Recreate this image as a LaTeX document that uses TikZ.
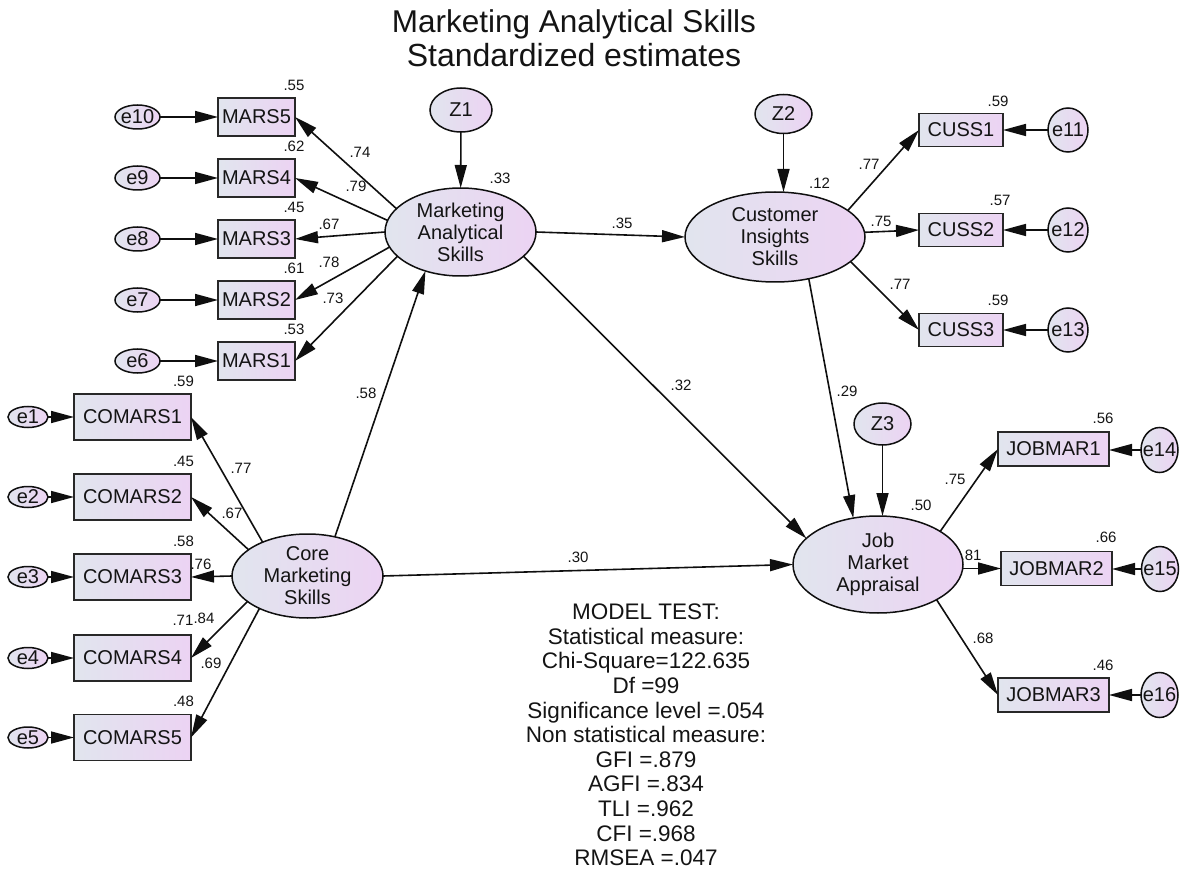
\documentclass[tikz,border=0pt]{standalone}
\usepackage{fontspec}
\setmainfont{Liberation Sans}
\usetikzlibrary{shapes.geometric,arrows.meta}
\definecolor{fillL}{RGB}{225,229,238}
\definecolor{fillR}{RGB}{236,211,243}
\definecolor{edgec}{RGB}{15,15,15}
\definecolor{boxc}{RGB}{40,40,40}
\definecolor{txt}{RGB}{20,20,20}
\begin{document}
\begin{tikzpicture}[x=1pt,y=-1pt,
  every node/.style={inner sep=0pt,outer sep=0pt,text=txt},
  grad/.style={left color=fillL,right color=fillR},
  lat/.style={ellipse,draw=edgec,line width=1.5pt,grad},
  obs/.style={rectangle,draw=boxc,line width=1.9pt,grad,font=\fontsize{20}{22}\selectfont},
  err/.style={ellipse,draw=edgec,line width=1.5pt,grad},
  ltxt/.style={align=center,font=\fontsize{20}{22}\selectfont},
  coef/.style={font=\fontsize{15}{17}\selectfont},
  arr/.style={line width=1.6pt,draw=edgec,-{Triangle[length=23pt,width=12pt]}},
]
\useasboundingbox (0,0) rectangle (1183,874);

% title
\node[font=\fontsize{31.5}{35}\selectfont,anchor=base] (title1) at (574,33) {Marketing Analytical Skills};
\node[font=\fontsize{32}{35}\selectfont,anchor=base] (title2) at (574,67) {Standardized estimates};

% label partly hidden under ellipse
\node[coef] (c81) at (971,555) {.81};

% latent variables
\node[lat,minimum width=151pt,minimum height=88pt] (mas) at (460.5,232) {};
\node[ltxt] (masT) at (mas) {Marketing\\Analytical\\Skills};
\node[lat,minimum width=180pt,minimum height=90pt] (cis) at (775,237) {};
\node[ltxt] (cisT) at (cis) {Customer\\Insights\\Skills};
\node[lat,minimum width=170pt,minimum height=97pt] (jma) at (878,564.5) {};
\node[ltxt] (jmaT) at (jma) {Job\\Market\\Appraisal};
\node[lat,minimum width=151pt,minimum height=84pt] (core) at (307.5,576) {};
\node[ltxt] (coreT) at (core) {Core\\Marketing\\Skills};

% disturbances
\node[err,minimum width=62pt,minimum height=44pt] (z1) at (461,110) {};
\node[ltxt] (z1T) at (z1) {Z1};
\node[err,minimum width=57pt,minimum height=39pt] (z2) at (783.5,114) {};
\node[ltxt] (z2T) at (z2) {Z2};
\node[err,minimum width=57pt,minimum height=42pt] (z3) at (882.5,424) {};
\node[ltxt] (z3T) at (z3) {Z3};

% MARS indicators
\foreach \i/\y/\e in {5/117/10,4/178/9,3/239/8,2/300/7,1/361/6}{
  \node[obs,minimum width=77pt,minimum height=38pt] (mars\i) at (256.5,\y) {MARS\i};
  \node[err,minimum width=45pt,minimum height=24pt] (e\e) at (137.5,\y) {};
  \node[ltxt] (e\e T) at (e\e) {e\e};
}
% COMARS indicators
\foreach \i/\y in {1/417,2/497,3/577,4/658,5/737.5}{
  \node[obs,minimum width=117pt,minimum height=46pt] (comars\i) at (132.5,\y) {COMARS\i};
  \node[err,minimum width=40pt,minimum height=21pt] (e\i) at (28,\y) {};
  \node[ltxt] (e\i T) at (e\i) {e\i};
}
% CUSS indicators
\foreach \i/\y/\e in {1/130/11,2/230/12,3/330/13}{
  \node[obs,minimum width=84pt,minimum height=33pt] (cuss\i) at (961,\y) {CUSS\i};
  \node[err,minimum width=40pt,minimum height=44pt] (e\e) at (1068,\y) {};
  \node[ltxt] (e\e T) at (e\e) {e\e};
}
% JOBMAR indicators
\node[obs,minimum width=111pt,minimum height=34pt] (jobmar1) at (1053.5,449) {JOBMAR1};
\node[obs,minimum width=111pt,minimum height=34pt] (jobmar2) at (1056.5,568.5) {JOBMAR2};
\node[obs,minimum width=111pt,minimum height=34pt] (jobmar3) at (1053.5,695) {JOBMAR3};
\node[err,minimum width=37pt,minimum height=45pt] (e14) at (1159.5,450) {};
\node[ltxt] (e14T) at (e14) {e14};
\node[err,minimum width=37pt,minimum height=45pt] (e15) at (1160,569) {};
\node[ltxt] (e15T) at (e15) {e15};
\node[err,minimum width=37pt,minimum height=45pt] (e16) at (1159.5,695) {};
\node[ltxt] (e16T) at (e16) {e16};

% structural paths
\draw[arr] (z1) -- (mas);
\draw[arr] (z2.south) -- (z2.south |- cis.north);
\draw[arr] (z3.south) -- (z3.south |- jma.north);
\draw[arr] (mas.east) -- (cis.west);
\draw[arr] (mas.-21) -- (jma.160);
\draw[arr] (core.55) -- (mas.228);
\draw[arr] (cis.-51) -- (jma.118);
\draw[arr] (core.east) -- (jma.west);

% measurement paths
\draw[arr] (mas.160) -- (mars5.east);
\draw[arr] (mas.171) -- (mars4.east);
\draw[arr] (mas.west) -- (mars3.east);
\draw[arr] (mas.192.5) -- (mars2.east);
\draw[arr] (mas.201) -- (mars1.east);
\draw[arr] (core.143) -- (comars1.east);
\draw[arr] (core.156) -- (comars2.east);
\draw[arr] (core.west) -- (comars3.east);
\draw[arr] (core.203) -- (comars4.east);
\draw[arr] (core.214.5) -- (comars5.east);
\draw[arr] (cis.20) -- (cuss1.west);
\draw[arr] (cis.3) -- (cuss2.west);
\draw[arr] (cis.-18) -- (cuss3.west);
\draw[arr] (jma.28) -- (jobmar1.west);
\draw[arr] (jobmar2.west -| jma.east) -- (jobmar2.west);
\draw[arr] (jma.-31) -- (jobmar3.west);

% error paths
\foreach \i/\e in {5/10,4/9,3/8,2/7,1/6}{ \draw[arr] (e\e) -- (mars\i.west); }
\foreach \i in {1,...,5}{ \draw[arr] (e\i) -- (comars\i.west); }
\foreach \i/\e in {1/11,2/12,3/13}{ \draw[arr] (e\e) -- (cuss\i.east); }
\draw[arr] (e14) -- (e14 -| jobmar1.east);
\draw[arr] (e15) -- (e15 -| jobmar2.east);
\draw[arr] (e16) -- (e16 -| jobmar3.east);

% squared multiple correlations
\node[coef] (r33) at (500,178) {.33};
\node[coef] (r12) at (819.5,183) {.12};
\node[coef] (r50) at (921,505) {.50};
\node[coef] (rm5) at (294,85) {.55};
\node[coef] (rm4) at (294,146) {.62};
\node[coef] (rm3) at (294,207) {.45};
\node[coef] (rm2) at (294,268) {.61};
\node[coef] (rm1) at (294,329) {.53};
\node[coef] (rc1) at (183.5,381) {.59};
\node[coef] (rc2) at (183.5,461) {.45};
\node[coef] (rc3) at (183.5,541) {.58};
\node[coef] (rc4) at (183,620) {.71};
\node[coef] (rc5) at (183.5,701) {.48};
\node[coef] (ru1) at (998,101) {.59};
\node[coef] (ru2) at (1000,200) {.57};
\node[coef] (ru3) at (998,300) {.59};
\node[coef] (rj1) at (1103,418) {.56};
\node[coef] (rj2) at (1106,537) {.66};
\node[coef] (rj3) at (1103,665) {.46};

% path coefficients
\node[coef] (p35) at (622,223) {.35};
\node[coef] (p32) at (681,385) {.32};
\node[coef] (p58) at (366,393) {.58};
\node[coef] (p29) at (847,391) {.29};
\node[coef] (p30) at (578,557) {.30};
\node[coef] (pm5) at (360,152) {.74};
\node[coef] (pm4) at (356,186) {.79};
\node[coef] (pm3) at (329,224) {.67};
\node[coef] (pm2) at (329,262) {.78};
\node[coef] (pm1) at (333,298) {.73};
\node[coef] (pc1) at (241,468) {.77};
\node[coef] (pc2) at (232,513) {.67};
\node[coef] (pc3) at (201,564) {.76};
\node[coef] (pc4) at (204,618) {.84};
\node[coef] (pc5) at (211,663) {.69};
\node[coef] (pu1) at (869,164) {.77};
\node[coef] (pu2) at (881,221) {.75};
\node[coef] (pu3) at (900,284) {.77};
\node[coef] (pj1) at (955,479) {.75};
\node[coef] (pj3) at (983,638) {.68};

% model test
\node[align=center,font=\fontsize{22.5}{24.6}\selectfont,anchor=north] (model) at (646,604)
 {MODEL TEST:\\Statistical measure:\\Chi-Square=122.635\\Df =99\\Significance level =.054\\Non statistical measure:\\GFI =.879\\AGFI =.834\\TLI =.962\\CFI =.968\\RMSEA =.047};
\end{tikzpicture}
\end{document}
